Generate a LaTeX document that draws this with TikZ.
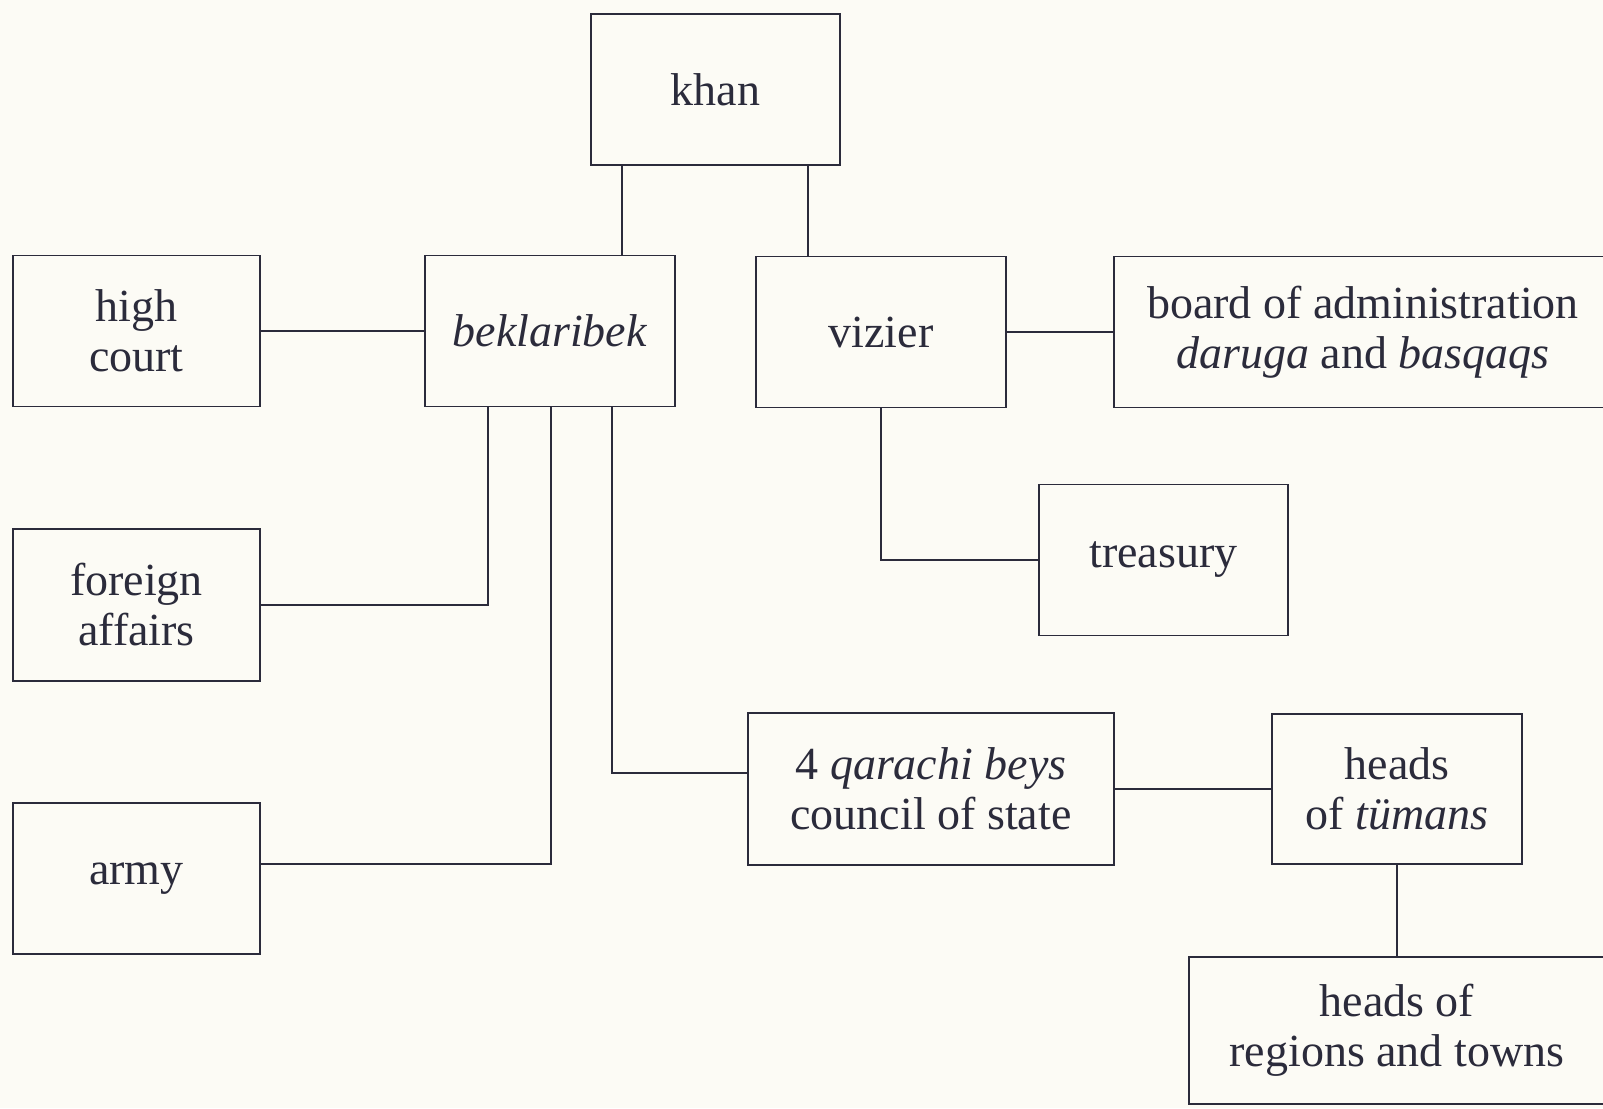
\documentclass[tikz,border=0pt]{standalone}
\usepackage{fontspec}
\setmainfont{Liberation Serif}
\definecolor{ink}{HTML}{2B2B3B}
\definecolor{paper}{HTML}{FCFBF5}
\begin{document}
\begin{tikzpicture}[x=1pt,y=-1pt,
  box/.style={draw=ink, rectangle, inner sep=0pt, align=center, text=ink,
    line width=1.8pt, font=\fontsize{46}{50}\selectfont},
  link/.style={draw=ink, line width=1.8pt}]
\useasboundingbox (0,0) rectangle (1603,1108);
\clip (0,0) rectangle (1603,1108);
\fill[paper] (0,0) rectangle (1603,1108);

\node[box, minimum width=249pt, minimum height=151pt] (khan) at (715.5,89.5) {khan};
\node[box, minimum width=247pt, minimum height=151pt] (high) at (136.5,331) {high\\court};
\node[box, minimum width=250pt, minimum height=151pt] (bek) at (550,331) {\textit{beklaribek}};
\node[box, minimum width=250pt, minimum height=151pt] (viz) at (881,332) {vizier};
\node[box, minimum width=498pt, minimum height=151pt] (board) at (1363,332) {board of administration\\\textit{daruga} and \textit{basqaqs}};
\node[box, minimum width=249pt, minimum height=151pt] (treas) at (1163.5,560) {treasury};
\node[box, minimum width=247pt, minimum height=152pt] (foreign) at (136.5,605) {foreign\\affairs};
\node[box, minimum width=247pt, minimum height=151pt] (army) at (136.5,878.5) {army};
\node[box, minimum width=366pt, minimum height=152pt] (qar) at (931,789) {4 \textit{qarachi beys}\\council of state};
\node[box, minimum width=250pt, minimum height=150pt] (tum) at (1397,789) {heads\\of \textit{tümans}};
\node[box, minimum width=416pt, minimum height=147pt] (reg) at (1397,1030.5) {heads of\\regions and towns};

\coordinate (kx1) at (622,0);
\coordinate (kx2) at (808,0);
\coordinate (jf) at (488,605);
\coordinate (ja) at (551,864);
\coordinate (jq) at (612,773);
\coordinate (jt) at (881,560);

\draw[link] (khan.south -| kx1) -- (bek.north -| kx1);
\draw[link] (khan.south -| kx2) -- (viz.north -| kx2);
\draw[link] (high.east) -- (bek.west);
\draw[link] (viz.east) -- (board.west);
\draw[link] (bek.south -| jf) -- (jf) -- (foreign.east |- jf);
\draw[link] (bek.south -| ja) -- (ja) -- (army.east |- ja);
\draw[link] (bek.south -| jq) -- (jq) -- (qar.west |- jq);
\draw[link] (viz.south) -- (jt) -- (treas.west);
\draw[link] (qar.east) -- (tum.west);
\draw[link] (tum.south) -- (reg.north);
\end{tikzpicture}
\end{document}
